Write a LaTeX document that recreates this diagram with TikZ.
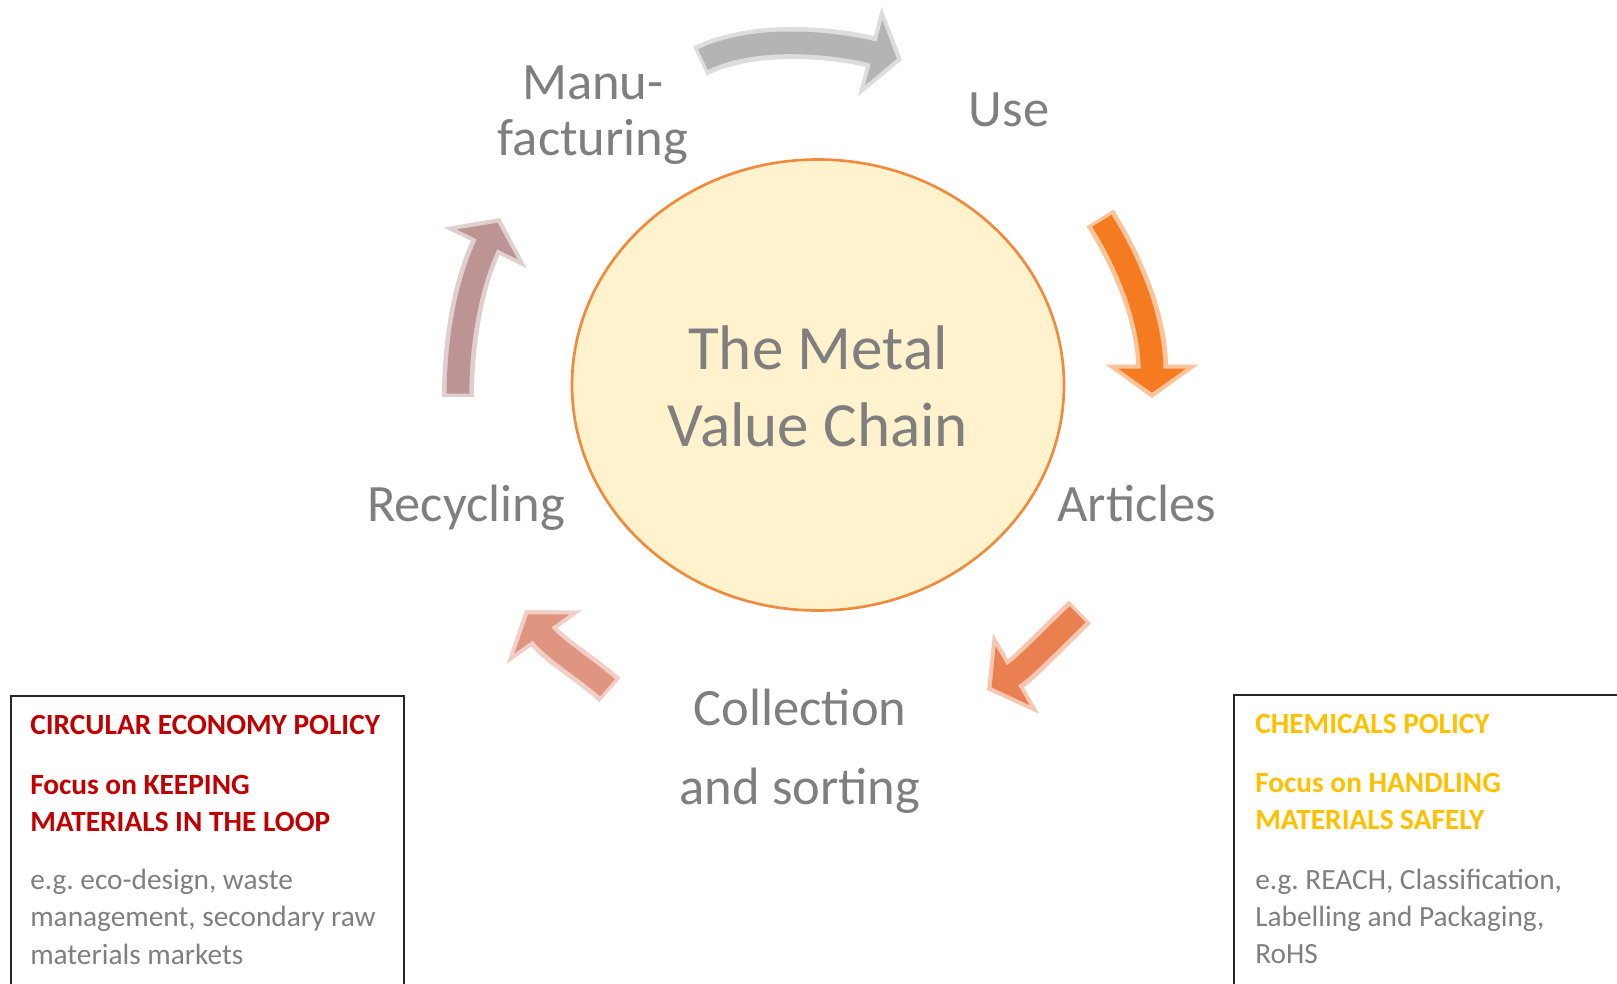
\documentclass[tikz,border=0pt]{standalone}
\usepackage{fontspec}
\setmainfont{Carlito}
\usepackage{xcolor}
\usepackage{tikz}
\usetikzlibrary{arrows.meta}
\frenchspacing
\definecolor{txt}{HTML}{7F7F7F}
\definecolor{policyred}{HTML}{C00000}
\definecolor{policygold}{HTML}{FFC000}
\definecolor{core}{HTML}{FFF2CC}
\definecolor{rim}{HTML}{F08A3C}
\definecolor{silver}{HTML}{B4B4B4}
\definecolor{amber}{HTML}{F47B20}
\definecolor{coral}{HTML}{EA8050}
\definecolor{salmon}{HTML}{DF9580}
\definecolor{rose}{HTML}{BC9494}
\tikzset{
  stage/.style={text=txt, font=\fontsize{39.4}{42}\selectfont, inner sep=0pt, anchor=base},
  title/.style={text=txt, font=\fontsize{47.3}{50}\selectfont, inner sep=0pt, anchor=base},
  bodyline/.style={text=txt, font=\fontsize{22}{24}\selectfont, inner sep=0pt, anchor=base west},
  headline/.style={font=\bfseries\fontsize{22}{24}\selectfont, inner sep=0pt, anchor=base west},
  bevel/.style={line width=24pt, -{Triangle[width=68pt,length=25pt]}},
  face/.style={line width=17pt, shorten >=4pt, shorten <=2.5pt, -{Triangle[width=50pt,length=18pt]}},
  frame/.style={draw=black!85, line width=1.5pt},
}

\begin{document}
\begin{tikzpicture}[x=0.75pt, y=-0.75pt]
  \useasboundingbox (0,0) rectangle (1617,983);
  \clip (0,0) rectangle (1617,983);

  % centre
  \coordinate (ctr) at (818,385);
  \draw[draw=rim, fill=core, line width=2pt] (ctr) ellipse [x radius=246, y radius=225.5];
  \node[title] (the) at (818,369) {The Metal};
  \node[title] (val) at (818,446) {Value Chain};

  % stages
  \node[stage] (manu) at (593,99) {Manu-};
  \node[stage] (fact) at (593,155) {facturing};
  \node[stage] (use) at (1009,126) {Use};
  \node[stage] (arti) at (1137,521) {Articles};
  \node[stage] (coll) at (800,725) {Collection};
  \node[stage] (sort) at (800,804) {and sorting};
  \node[stage] (recy) at (466,521) {Recycling};

  % arrow ends
  \coordinate (mu-out) at (700,61);
  \coordinate (us-in) at (902,60);
  \coordinate (us-out) at (1100,218);
  \coordinate (ar-in) at (1152,398);
  \coordinate (ar-out) at (1080,612);
  \coordinate (co-in) at (987,690);
  \coordinate (co-out) at (610,690);
  \coordinate (re-in) at (525,610);
  \coordinate (re-out) at (458,397);
  \coordinate (mu-in) at (500,218);

  \draw[bevel, draw=silver!45!white] (mu-out) .. controls (760,32) and (845,45) .. (us-in);
  \draw[face, draw=silver] (mu-out) .. controls (760,32) and (845,45) .. (us-in);
  \draw[bevel, draw=amber!45!white] (us-out) .. controls (1128,262) and (1152,320) .. (ar-in);
  \draw[face, draw=amber] (us-out) .. controls (1128,262) and (1152,320) .. (ar-in);
  \draw[bevel, draw=coral!45!white] (ar-out) .. controls (1055,636) and (1022,670) .. (co-in);
  \draw[face, draw=coral] (ar-out) .. controls (1055,636) and (1022,670) .. (co-in);
  \draw[bevel, draw=salmon!45!white] (co-out) .. controls (585,668) and (552,648) .. (re-in);
  \draw[face, draw=salmon] (co-out) .. controls (585,668) and (552,648) .. (re-in);
  \draw[bevel, draw=rose!45!white] (re-out) .. controls (458,330) and (472,275) .. (mu-in);
  \draw[face, draw=rose] (re-out) .. controls (458,330) and (472,275) .. (mu-in);

  % circular economy box
  \draw[frame] (10.5,995) -- (10.5,696) -- (404,696) -- (404,995);
  \node[headline, text=policyred] (ce1) at (30,734) {CIRCULAR ECONOMY POLICY};
  \node[headline, text=policyred] (ce2) at (30,794) {Focus on KEEPING};
  \node[headline, text=policyred] (ce3) at (30,831) {MATERIALS IN THE LOOP};
  \node[bodyline] (ce4) at (30,889) {e.g. eco-design, waste};
  \node[bodyline] (ce5) at (30,926) {management, secondary raw};
  \node[bodyline] (ce6) at (30,964) {materials markets};

  % chemicals box
  \draw[frame] (1234,995) -- (1234,695) -- (1625,695);
  \node[headline, text=policygold] (ch1) at (1255,733) {CHEMICALS POLICY};
  \node[headline, text=policygold] (ch2) at (1255,792) {Focus on HANDLING};
  \node[headline, text=policygold] (ch3) at (1255,829) {MATERIALS SAFELY};
  \node[bodyline] (ch4) at (1255,889) {e.g. REACH, Classification,};
  \node[bodyline] (ch5) at (1255,926) {Labelling and Packaging,};
  \node[bodyline] (ch6) at (1255,963) {RoHS};
\end{tikzpicture}
\end{document}
